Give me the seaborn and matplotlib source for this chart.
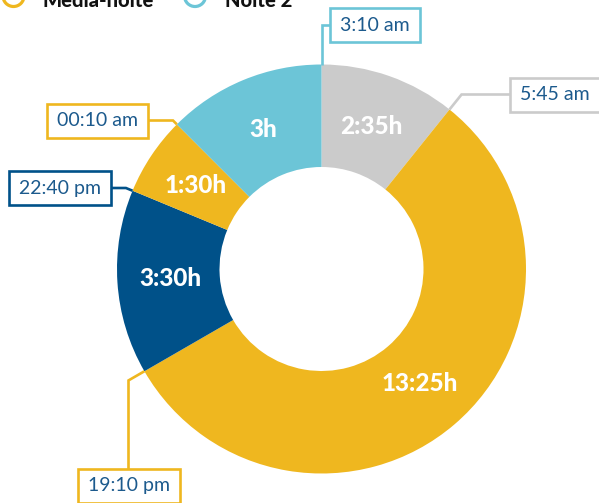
import numpy as np
import matplotlib
matplotlib.use("Agg")
import matplotlib.pyplot as plt
from matplotlib.patches import Rectangle, Circle
import seaborn as sns

# ---- data -------------------------------------------------------------
segment_minutes = [155, 805, 210, 90, 180]
segment_labels = ["2:35h", "13:25h", "3:30h", "1:30h", "3h"]
boundary_labels = ["3:10 am", "5:45 am", "19:10 pm", "22:40 pm", "00:10 am"]
legend_names = ["Media-noite", "Noite 2"]

# ---- styling ----------------------------------------------------------
YELLOW, LIGHT_BLUE, DARK_BLUE, GREY = "#EFB71F", "#6CC5D7", "#005189", "#CBCBCB"
segment_colors = sns.color_palette([GREY, YELLOW, DARK_BLUE, YELLOW, LIGHT_BLUE])
legend_colors = [YELLOW, LIGHT_BLUE]
TIME_TEXT = "#1C5A8D"

sns.set_theme(style="white")
plt.rcParams["font.family"] = ["Lato", "DejaVu Sans"]

W, H = 599, 503
fig = plt.figure(figsize=(W / 100, H / 100), dpi=100)
ax = fig.add_axes([0, 0, 1, 1])

# donut geometry (pixel units, y measured from the top)
CX, CY = 321.5, 269.0
R_OUT, R_IN = 204.5, 102.0


def to_data(x, y):
    return x, H - y


ax.pie(segment_minutes, colors=segment_colors, startangle=90, counterclock=False,
       radius=R_OUT, center=to_data(CX, CY),
       wedgeprops=dict(width=R_OUT - R_IN, edgecolor="none", linewidth=0))
ax.set_xlim(0, W)
ax.set_ylim(0, H)
ax.set_aspect("equal")
ax.axis("off")

total = float(sum(segment_minutes))
cum = np.concatenate([[0], np.cumsum(segment_minutes)])
theta = np.radians(360.0 * cum / total)          # clockwise from 12 o'clock


def polar_px(r, t):
    return CX + r * np.sin(t), CY - r * np.cos(t)


# duration labels inside each wedge
for i, lab in enumerate(segment_labels):
    mid = 0.5 * (theta[i] + theta[i + 1])
    x, y = polar_px(151, mid)
    ax.text(*to_data(x, y), lab, ha="center", va="center", color="white",
            fontsize=17.5, fontweight="black", zorder=5)

# clock-time callouts at every wedge boundary
box_centers = [(375, 25), (555, 94.5), (128.5, 486), (60, 188), (97.5, 120.5)]
leader_modes = ["h", "h", "v", "h", "h"]
BOX_H, BOX_PAD = 34, 10

texts = []
for k, lab in enumerate(boundary_labels):
    bx, by = box_centers[k]
    t = ax.text(*to_data(bx, by), lab, ha="center", va="center", color=TIME_TEXT,
                fontsize=14, zorder=8)
    texts.append(t)

fig.canvas.draw()
renderer = fig.canvas.get_renderer()

for k, t in enumerate(texts):
    color = segment_colors[k - 1]
    bx, by = box_centers[k]
    tw = t.get_window_extent(renderer).width
    bw = tw + 2 * BOX_PAD
    left, right = bx - bw / 2, bx + bw / 2
    top = by - BOX_H / 2
    ax.add_patch(Rectangle(to_data(left, by + BOX_H / 2), bw, BOX_H,
                           facecolor="white", edgecolor=color, linewidth=1.9,
                           zorder=7))

    ang = theta[k]
    ux, uy = np.sin(ang), -np.cos(ang)
    px0, py0 = polar_px(R_OUT, ang)
    if leader_modes[k] == "h":
        s = (by - py0) / uy if abs(uy) > 1e-6 else 0.0
        s = max(s, 0.0)
        ex, ey = px0 + s * ux, py0 + s * uy
        end = (left, ey) if bx > ex else (right, ey)
    else:
        s = (bx - px0) / ux if abs(ux) > 1e-6 else 0.0
        s = max(s, 0.0)
        ex, ey = px0 + s * ux, py0 + s * uy
        end = (ex, top)
    xs = [px0, ex, end[0]]
    ys = [H - py0, H - ey, H - end[1]]
    ax.plot(xs, ys, color=color, linewidth=1.9, solid_joinstyle="miter",
            solid_capstyle="butt", zorder=6)

# legend along the top edge
legend_marker_x = [13.5, 195]
legend_text_x = [43, 225]
for name, col, mx, tx in zip(legend_names, legend_colors, legend_marker_x, legend_text_x):
    ax.add_patch(Circle(to_data(mx, -4), 10.5, facecolor="white", edgecolor=col,
                        linewidth=2.3, zorder=9, clip_on=False))
    ax.text(*to_data(tx, 7), name, ha="left", va="baseline", color="#111111",
            fontsize=14.5, fontweight="black", zorder=9)

fig.savefig("out.png", dpi=100)
